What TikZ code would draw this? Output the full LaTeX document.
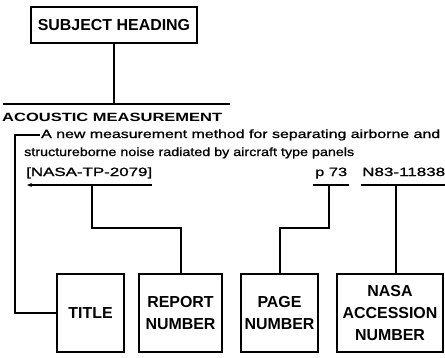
\documentclass[tikz,border=0pt]{standalone}
\usepackage{fontspec}
\setmainfont{Liberation Sans}
\newfontfamily\bodyfont[FakeBold=0.9]{Liberation Sans}
\usepackage{graphicx}
\usetikzlibrary{arrows.meta}
\newcommand\fitw[2]{\resizebox{#1}{\height}{#2}}
\begin{document}
\begin{tikzpicture}[x=1bp,y=-1bp,
  lbl/.style={draw, line width=2bp, align=center, inner sep=0pt,
    minimum height=78bp, font=\bfseries\fontsize{16}{22}\selectfont},
  conn/.style={line width=2bp},
  body/.style={anchor=base west, inner sep=0pt, font=\bodyfont\fontsize{12}{14}\selectfont},
  bodyb/.style={anchor=base west, inner sep=0pt, font=\bfseries\fontsize{12}{14}\selectfont}]
\useasboundingbox (0,0) rectangle (445,357);
% subject heading
\node[lbl, minimum width=166bp, minimum height=36bp] (subj) at (114,25) {SUBJECT HEADING};
\coordinate (rl) at (3,104);
\coordinate (rr) at (230,104);
\draw[conn] (rl) -- (rr);
\draw[conn] (subj.south) -- (subj.south |- rr);
% text lines
\node[bodyb] (head) at (2,121) {\fitw{220bp}{ACOUSTIC MEASUREMENT}};
\node[body] (l1) at (41,138) {\fitw{399bp}{A new measurement method for separating airborne and}};
\node[body] (l2) at (24,156) {\fitw{330bp}{structureborne noise radiated by aircraft type panels}};
\node[body] (rep) at (26,176) {\fitw{126bp}{[NASA-TP-2079]}};
\node[body] (pg) at (315,176) {\fitw{32bp}{p 73}};
\node[body] (acc) at (362,176) {\fitw{83bp}{N83-11838}};
% boxes
\node[lbl, minimum width=67bp] (title) at (90.5,313) {TITLE};
\node[lbl, minimum width=83bp] (report) at (180.5,313) {REPORT\\NUMBER};
\node[lbl, minimum width=77bp] (page) at (279.5,313) {PAGE\\NUMBER};
\node[lbl, minimum width=106bp] (nasa) at (390,313) {NASA\\ACCESSION\\NUMBER};
% underlines
\coordinate (u1a) at (27,185);
\coordinate (u1b) at (152,185);
\coordinate (u1c) at (92,185);
\coordinate (u2a) at (313,185);
\coordinate (u2b) at (349,185);
\coordinate (u2c) at (329,185);
\coordinate (u3a) at (361,185);
\coordinate (u3b) at (445,185);
\coordinate (u3c) at (396,185);
\coordinate (t1) at (40,135);
\draw[conn, {Stealth[length=5bp,width=4bp]}-] (u1a) -- (u1b);
\draw[conn] (u2a) -- (u2b);
\draw[conn] (u3a) -- (u3b);
% connectors
\draw[conn] (t1) -- ++(-25,0) |- (title.west);
\draw[conn] (u1c) -- ++(0,43) -| (report.north);
\draw[conn] (u2c) -- ++(0,43) -| (page.north);
\draw[conn] (u3c) -- (u3c |- nasa.north);
\end{tikzpicture}
\end{document}
